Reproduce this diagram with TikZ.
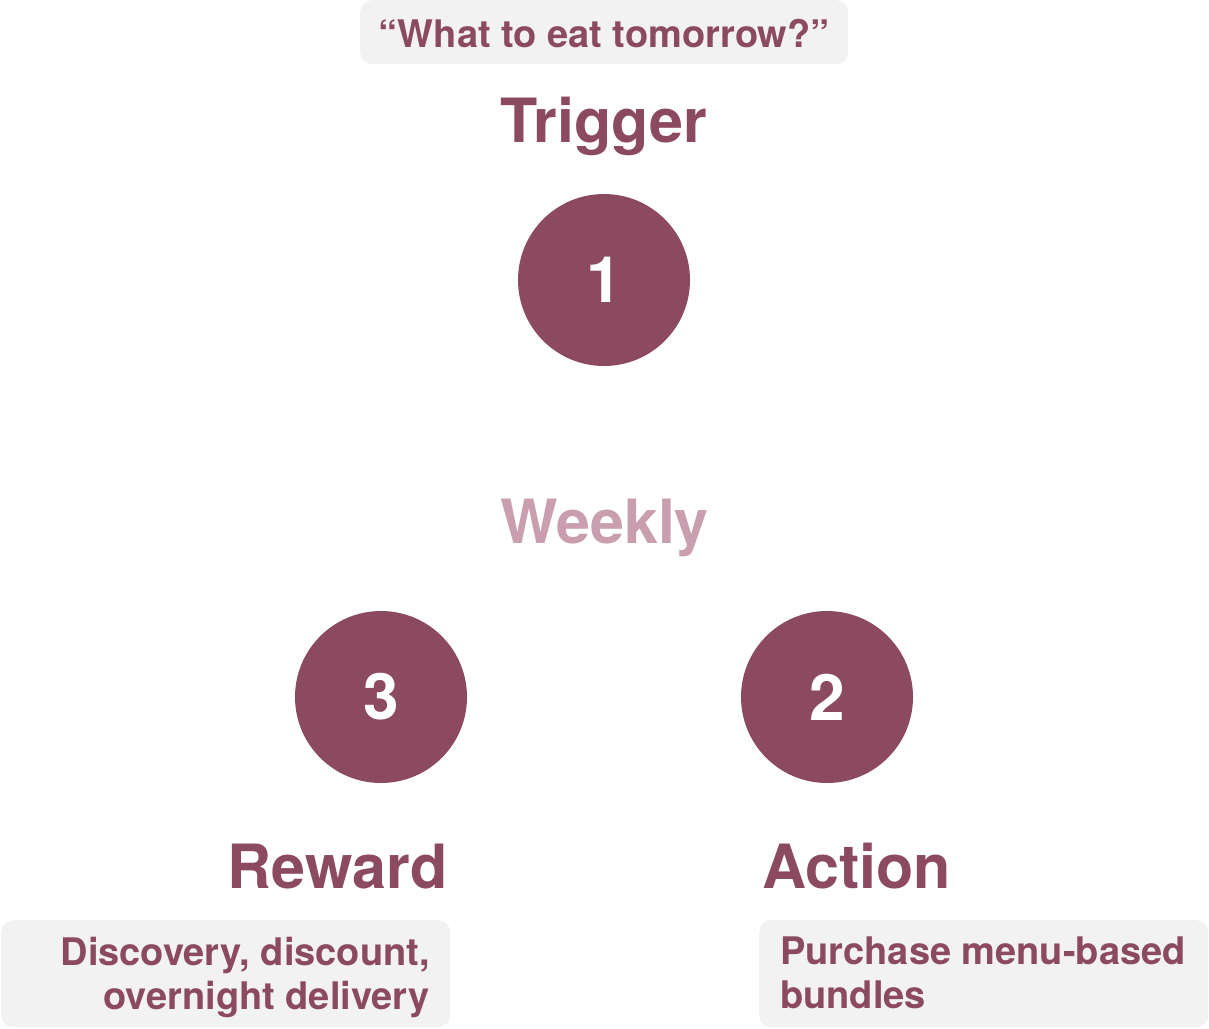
\documentclass[tikz,border=0pt]{standalone}
\usepackage{fontspec}
\setmainfont{TeX Gyre Heros}
\definecolor{plum}{HTML}{8C4A61}
\definecolor{lightplum}{HTML}{C99FB0}
\definecolor{boxgray}{HTML}{F2F2F2}
\tikzset{
  graybox/.style={fill=boxgray, rounded corners=12pt, draw=none, inner sep=0pt},
  stepcircle/.style={circle, fill=plum, minimum size=172pt, inner sep=0pt, text=white, font=\fontsize{64}{64}\selectfont\bfseries},
  heading/.style={text=plum, inner sep=0pt, font=\fontsize{61}{61}\selectfont\bfseries},
  smalltext/.style={text=plum, inner sep=0pt, font=\fontsize{38}{44}\selectfont\bfseries},
}
\begin{document}
\begin{tikzpicture}[x=1pt,y=-1pt]
\useasboundingbox (0,0) rectangle (1209,1028);
% top question
\node[graybox, minimum width=488pt, minimum height=64pt, anchor=north west] (qbox) at (360,0) {};
\node[smalltext, anchor=base] (qtext) at (604,47) {“What to eat tomorrow?”};
% headings
\node[heading, anchor=base] (trigger) at (604,142) {Trigger};
\node[heading, anchor=base, text=lightplum] (weekly) at (604.5,543) {Weekly};
\node[heading, anchor=base] (reward) at (337.5,888) {Reward};
\node[heading, anchor=base] (action) at (856.5,888) {Action};
% circles
\node[stepcircle] (c1) at (604,280) {1};
\node[stepcircle] (c3) at (381,697) {3};
\node[stepcircle] (c2) at (827,697) {2};
% bottom boxes
\node[graybox, minimum width=449pt, minimum height=107pt, anchor=north west] (rbox) at (1,920) {};
\node[smalltext, align=right, anchor=north east] (rtext) at (430,937) {Discovery, discount,\\overnight delivery};
\node[graybox, minimum width=449pt, minimum height=107pt, anchor=north west] (abox) at (759,920) {};
\node[smalltext, align=left, anchor=north west] (atext) at (780,937) {Purchase menu-based\\bundles};
\end{tikzpicture}
\end{document}
